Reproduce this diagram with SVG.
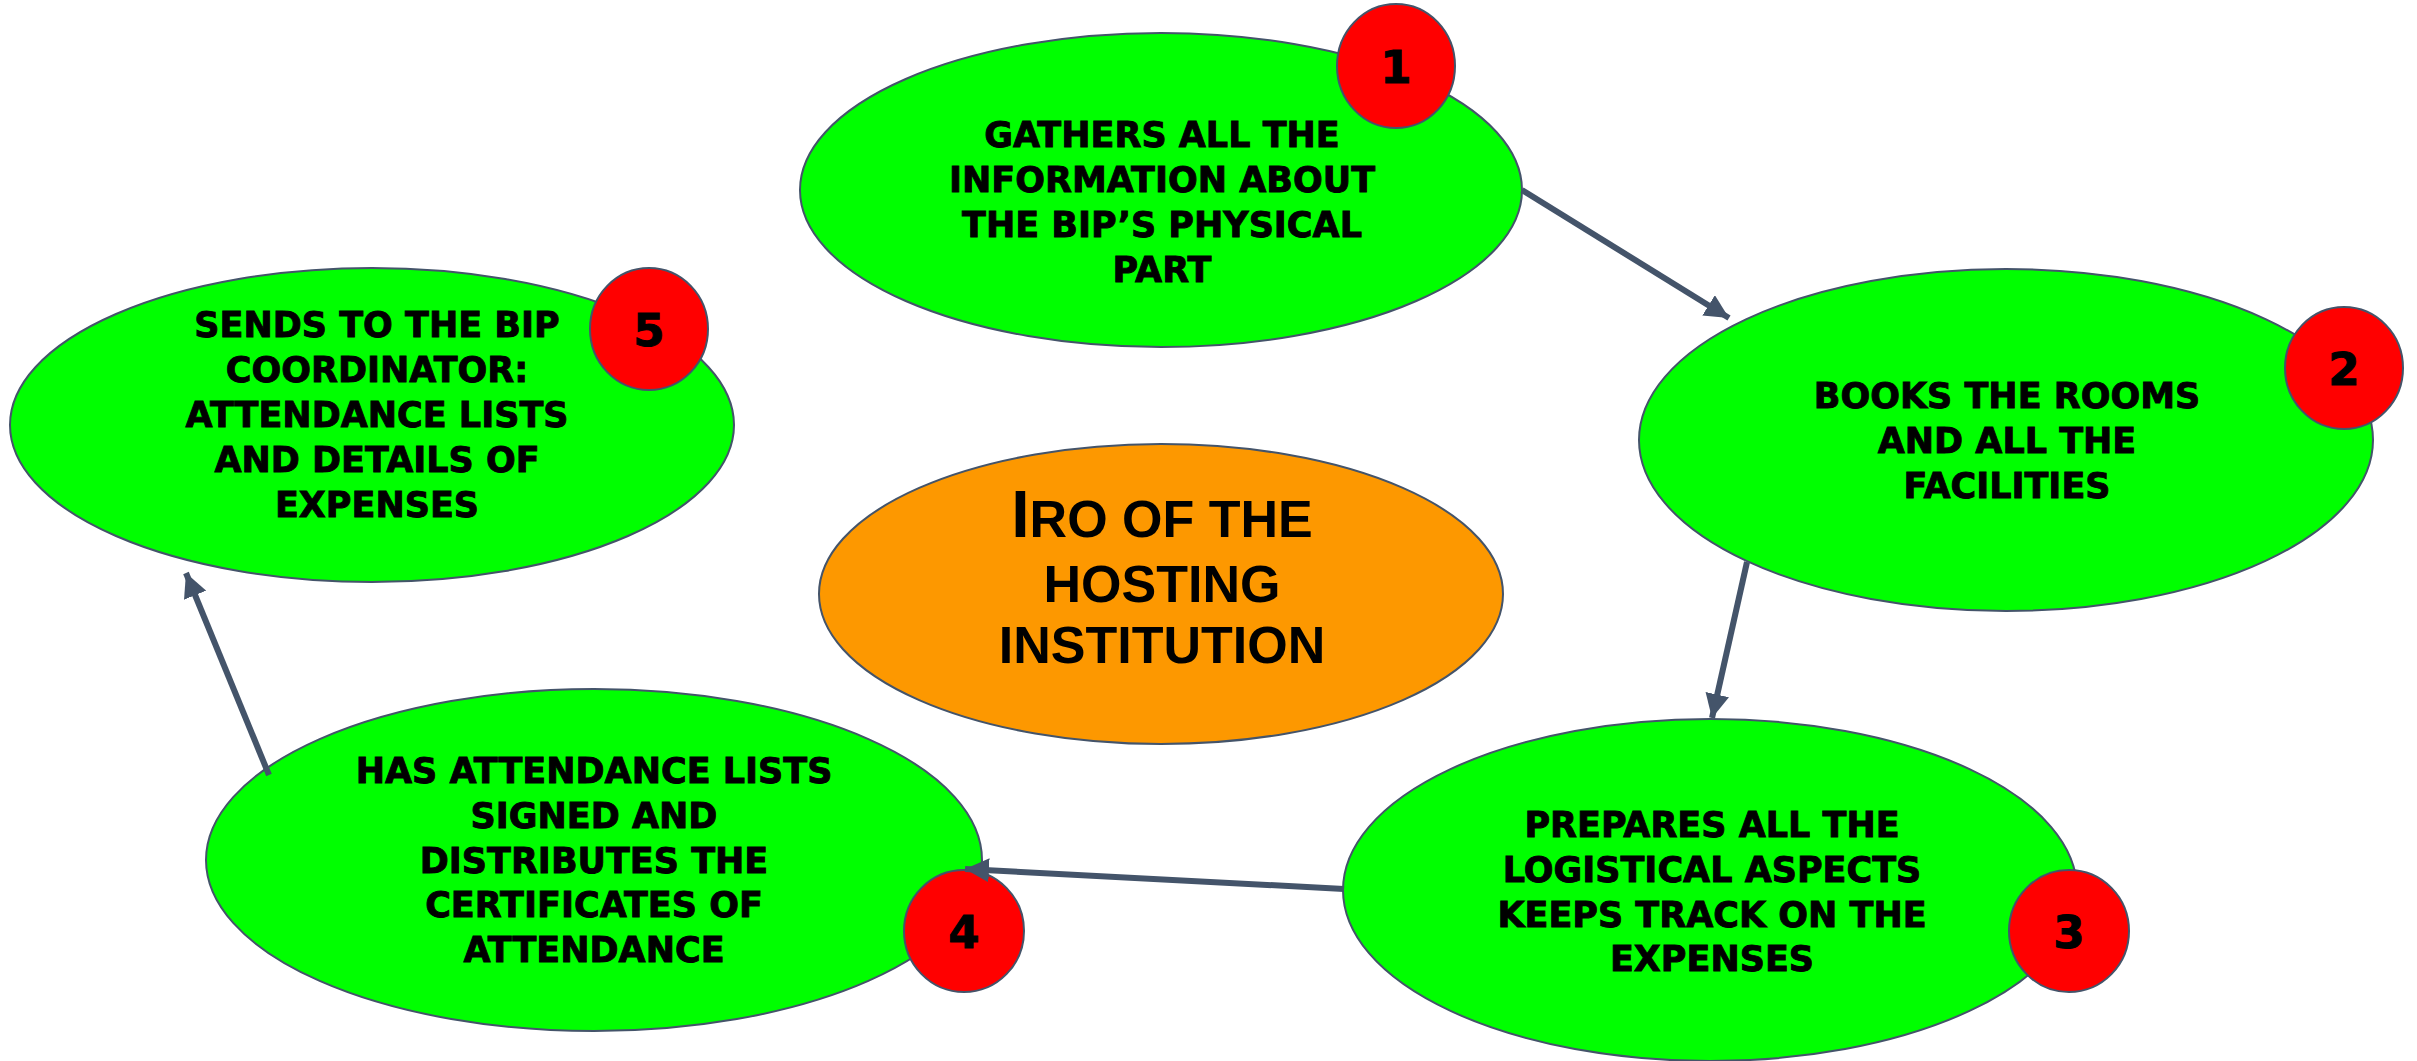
<svg xmlns="http://www.w3.org/2000/svg" width="2417" height="1061" viewBox="0 0 2417 1061">
<style>
.step{fill:#00FF00;stroke:#44546A;stroke-width:2}
.center{fill:#FD9800;stroke:#44546A;stroke-width:2}
.badge{fill:#FF0000;stroke:#44546A;stroke-width:2}
.t{font-family:"DejaVu Sans",sans-serif;font-weight:bold;font-size:35px;fill:#000;stroke:#000;stroke-width:0.9;text-anchor:middle}
.n{font-family:"DejaVu Sans",sans-serif;font-weight:bold;font-size:45px;fill:#000;stroke:#000;stroke-width:1;text-anchor:middle}
.c{font-family:"Liberation Sans",Arial,sans-serif;font-weight:bold;font-size:52px;fill:#000;text-anchor:middle}
.conn{stroke:#44546A;stroke-width:6;fill:none;marker-end:url(#arr)}
</style>
<defs>
<marker id="arr" markerUnits="userSpaceOnUse" markerWidth="26" markerHeight="24" refX="24" refY="12" orient="auto">
<path d="M0,0 L24,12 L0,24 z" fill="#44546A"/>
</marker>
</defs>
<rect width="2417" height="1061" fill="#FFFFFF"/>
<g id="node-center">
<ellipse class="center" cx="1161" cy="594" rx="342" ry="150"/>
<text class="c" x="1162" y="537"><tspan font-size="66">I</tspan>RO OF THE</text>
<text class="c" x="1162" y="602">HOSTING</text>
<text class="c" x="1162" y="663">INSTITUTION</text>
</g>
<g id="node-1">
<ellipse class="step" cx="1161" cy="190" rx="361" ry="157"/>
<text class="t" x="1162" y="147">GATHERS ALL THE</text>
<text class="t" x="1162" y="192">INFORMATION ABOUT</text>
<text class="t" x="1162" y="237">THE BIP’S PHYSICAL</text>
<text class="t" x="1162" y="282">PART</text>
<ellipse class="badge" cx="1396" cy="66" rx="59" ry="62"/>
<text class="n" x="1396" y="83">1</text>
</g>
<g id="node-2">
<ellipse class="step" cx="2006" cy="440" rx="367" ry="171"/>
<text class="t" x="2007" y="408">BOOKS THE ROOMS</text>
<text class="t" x="2007" y="453">AND ALL THE</text>
<text class="t" x="2007" y="498">FACILITIES</text>
<ellipse class="badge" cx="2344" cy="368" rx="59" ry="61"/>
<text class="n" x="2344" y="385">2</text>
</g>
<g id="node-3">
<ellipse class="step" cx="1710" cy="890" rx="367" ry="171"/>
<text class="t" x="1712" y="837">PREPARES ALL THE</text>
<text class="t" x="1712" y="882">LOGISTICAL ASPECTS</text>
<text class="t" x="1712" y="927">KEEPS TRACK ON THE</text>
<text class="t" x="1712" y="971">EXPENSES</text>
<ellipse class="badge" cx="2069" cy="931" rx="60" ry="61"/>
<text class="n" x="2069" y="948">3</text>
</g>
<g id="node-4">
<ellipse class="step" cx="594" cy="860" rx="388" ry="171"/>
<text class="t" x="594" y="783">HAS ATTENDANCE LISTS</text>
<text class="t" x="594" y="828">SIGNED AND</text>
<text class="t" x="594" y="873">DISTRIBUTES THE</text>
<text class="t" x="594" y="917">CERTIFICATES OF</text>
<text class="t" x="594" y="962">ATTENDANCE</text>
<ellipse class="badge" cx="964" cy="931" rx="60" ry="61"/>
<text class="n" x="964" y="948">4</text>
</g>
<g id="node-5">
<ellipse class="step" cx="372" cy="425" rx="362" ry="157"/>
<text class="t" x="377" y="337">SENDS TO THE BIP</text>
<text class="t" x="377" y="382">COORDINATOR:</text>
<text class="t" x="377" y="427">ATTENDANCE LISTS</text>
<text class="t" x="377" y="472">AND DETAILS OF</text>
<text class="t" x="377" y="517">EXPENSES</text>
<ellipse class="badge" cx="649" cy="329" rx="59" ry="61"/>
<text class="n" x="649" y="346">5</text>
</g>
<g id="connectors">
<line class="conn" x1="1522" y1="190" x2="1729" y2="318"/>
<line class="conn" x1="1747" y1="562" x2="1712" y2="718"/>
<line class="conn" x1="1344" y1="889" x2="965" y2="869"/>
<line class="conn" x1="269" y1="775" x2="186" y2="573"/>
</g>
</svg>
